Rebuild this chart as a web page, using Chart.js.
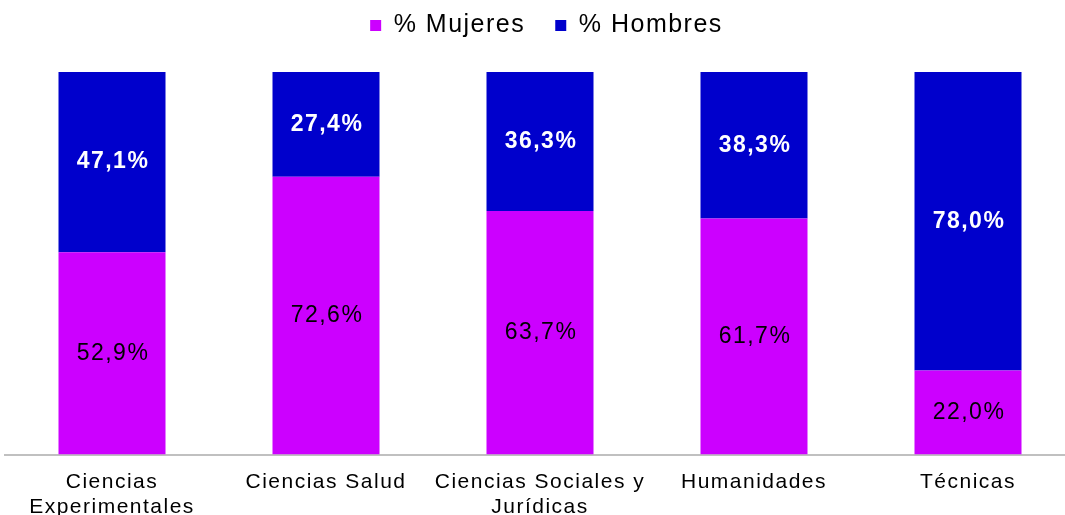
<!DOCTYPE html>
<html>
<head>
<meta charset="utf-8">
<script src="https://cdn.jsdelivr.net/npm/chart.js@4"></script>
<style>
html,body{margin:0;padding:0;background:#fff;overflow:hidden;}
#wrap{width:1088px;height:515px;position:relative;}
</style>
</head>
<body>
<div id="wrap"><canvas id="c"></canvas></div>
<script>
const categories = [["Ciencias","Experimentales"],"Ciencias Salud",["Ciencias Sociales y","Jurídicas"],"Humanidades","Técnicas"];
const mujeres = [52.9, 72.6, 63.7, 61.7, 22.0];
const hombres = [47.1, 27.4, 36.3, 38.3, 78.0];
const seriesNames = ["% Mujeres", "% Hombres"];

const FONT = '"Liberation Sans", Arial, sans-serif';
const LS = '1.5px';

const spacingPlugin = {
  id: 'spacing',
  beforeUpdate(chart) { chart.ctx.letterSpacing = LS; },
  beforeLayout(chart) { chart.ctx.letterSpacing = LS; },
  beforeDraw(chart) { chart.ctx.letterSpacing = LS; }
};

const labelPlugin = {
  id: 'segLabels',
  afterDatasetsDraw(chart) {
    const ctx = chart.ctx;
    chart.data.datasets.forEach((ds, di) => {
      const meta = chart.getDatasetMeta(di);
      meta.data.forEach((bar, i) => {
        const v = ds.data[i];
        const txt = v.toFixed(1).replace('.', ',') + '%';
        const cy = (bar.y + bar.base) / 2;
        ctx.save();
        ctx.letterSpacing = '1.5px';
        ctx.textAlign = 'center';
        ctx.textBaseline = 'middle';
        if (di === 0) {
          ctx.font = '23px ' + FONT;
          ctx.fillStyle = '#000';
        } else {
          ctx.font = 'bold 23px ' + FONT;
          ctx.fillStyle = '#fff';
        }
        ctx.fillText(txt, bar.x + 1, cy);
        ctx.restore();
      });
    });
  }
};

new Chart(document.getElementById('c'), {
  type: 'bar',
  data: {
    labels: categories,
    datasets: [
      { label: seriesNames[0], data: mujeres, backgroundColor: '#CC00FF', barPercentage: 0.5, categoryPercentage: 1 },
      { label: seriesNames[1], data: hombres, backgroundColor: '#0000CC', barPercentage: 0.5, categoryPercentage: 1 }
    ]
  },
  options: {
    responsive: true,
    maintainAspectRatio: false,
    animation: false,
    layout: { padding: { left: 5, right: 0, top: -17, bottom: -20 } },
    plugins: {
      legend: {
        position: 'top',
        labels: {
          font: { size: 25, family: FONT },
          color: '#000',
          boxWidth: 11,
          boxHeight: 11,
          padding: 30
        }
      },
      subtitle: {
        display: true,
        text: '',
        weight: 500,
        font: { size: 10 },
        padding: { top: 5, bottom: 7 }
      },
      tooltip: { enabled: false }
    },
    scales: {
      x: {
        stacked: true,
        grid: { display: false, drawTicks: false },
        border: { display: true, color: '#c0c0c0', width: 2 },
        ticks: {
          color: '#000',
          font: { size: 21, family: FONT, lineHeight: 1.2 },
          padding: 15,
          maxRotation: 0,
          autoSkip: false
        }
      },
      y: {
        stacked: true,
        min: 0,
        max: 100,
        display: true,
        position: 'right',
        grid: { display: false, drawTicks: false },
        border: { display: false },
        ticks: { display: false },
        afterFit(scale) { scale.width = 13; }
      }
    }
  },
  plugins: [spacingPlugin, labelPlugin]
});
</script>
</body>
</html>
